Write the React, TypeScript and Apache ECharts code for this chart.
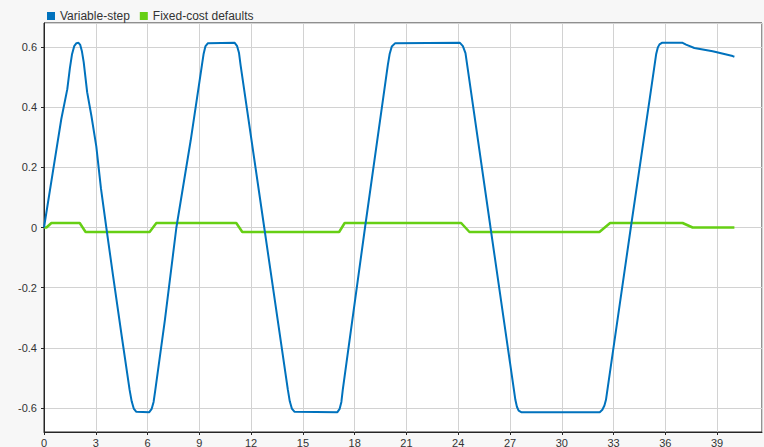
import React, { useEffect, useRef } from "react";
import * as echarts from "echarts";

const seriesNames = ["Variable-step", "Fixed-cost defaults"];
const seriesColors = ["#0072bd", "#66cf14"];

const variableStep: [number, number][] = [
  [0, 0], [0.5, 0.18], [1.0, 0.36], [1.35, 0.46], [1.5, 0.53], [1.62, 0.575],
  [1.75, 0.603], [1.88, 0.613], [2.0, 0.614], [2.1, 0.607], [2.2, 0.585],
  [2.3, 0.55], [2.5, 0.45], [2.75, 0.37], [3.03, 0.27], [3.3, 0.13],
  [3.61, 0.0], [4.0, -0.16], [4.5, -0.36], [4.96, -0.54], [5.08, -0.578],
  [5.2, -0.602], [5.35, -0.613], [6.1, -0.614], [6.24, -0.603],
  [6.35, -0.58], [6.45, -0.54], [7.0, -0.31], [7.67, 0.0], [8.5, 0.29],
  [9.15, 0.54], [9.25, 0.578], [9.35, 0.602], [9.5, 0.613], [11.05, 0.614],
  [11.19, 0.603], [11.3, 0.58], [11.39, 0.54], [12.76, 0.0], [14.13, -0.54],
  [14.24, -0.578], [14.36, -0.602], [14.52, -0.613], [17.0, -0.614],
  [17.13, -0.603], [17.23, -0.58], [17.31, -0.54], [18.6, 0.0], [19.92, 0.54],
  [20.03, 0.578], [20.15, 0.602], [20.35, 0.613], [24.1, 0.614],
  [24.27, 0.603], [24.42, 0.58], [24.52, 0.54], [25.87, 0.0], [27.31, -0.573],
  [27.4, -0.596], [27.5, -0.609], [27.65, -0.614], [32.2, -0.614],
  [32.35, -0.606], [32.47, -0.592], [32.56, -0.573], [34.0, 0.0], [35.1, 0.43],
  [35.47, 0.577], [35.56, 0.598], [35.66, 0.609], [35.8, 0.614], [37.0, 0.614],
  [37.2, 0.608], [37.68, 0.597], [38.74, 0.586], [39.9, 0.57], [40.0, 0.568],
];

const fixedCost: [number, number][] = [
  [0, 0], [0.14, 0.0], [0.43, 0.015], [2.07, 0.015], [2.41, -0.015],
  [6.12, -0.015], [6.51, 0.015], [11.14, 0.015], [11.49, -0.015],
  [17.1, -0.015], [17.42, 0.015], [24.17, 0.015], [24.65, -0.015],
  [32.18, -0.015], [32.8, 0.015], [37.0, 0.015], [37.58, 0.0], [40.0, 0.0],
];

const xMin = 0;
const xMax = 41.6;
const xInterval = 3;
const yMin = -0.68;
const yMax = 0.68;

export default function App() {
  const ref = useRef<HTMLDivElement>(null);
  useEffect(() => {
    if (!ref.current) return;
    const chart = echarts.init(ref.current, null, { renderer: "svg" });
    const font = "'Liberation Sans', Arial, sans-serif";
    chart.setOption({
      animation: false,
      backgroundColor: "#f7f7f7",
      textStyle: { fontFamily: font },
      legend: {
        left: 42,
        top: 5,
        itemWidth: 8,
        itemHeight: 8,
        itemGap: 10,
        icon: "rect",
        textStyle: { fontSize: 12, color: "#333", fontFamily: font },
        data: seriesNames,
      },
      grid: {
        left: 44,
        right: 2,
        top: 23,
        bottom: 15,
        show: true,
        backgroundColor: "#ffffff",
        borderColor: "#262626",
        borderWidth: 1,
        containLabel: false,
        outerBoundsMode: "none",
      },
      xAxis: {
        type: "value",
        min: xMin,
        max: xMax,
        interval: xInterval,
        axisLine: { show: true, onZero: false, lineStyle: { color: "#262626", width: 1 } },
        axisTick: { show: true, length: 3, lineStyle: { color: "#262626" } },
        axisLabel: {
          showMaxLabel: false,
          fontSize: 11,
          color: "#333",
          margin: 5,
          fontFamily: font,
        },
        splitLine: { show: true, lineStyle: { color: "#d2d2d2", width: 1 } },
      },
      yAxis: {
        type: "value",
        min: yMin,
        max: yMax,
        splitNumber: 6,
        axisLine: { show: true, onZero: false, lineStyle: { color: "#262626", width: 1 } },
        axisTick: { show: true, length: 3, lineStyle: { color: "#262626" } },
        axisLabel: {
          showMaxLabel: false,
          showMinLabel: false,
          fontSize: 11,
          color: "#333",
          margin: 7,
          fontFamily: font,
        },
        splitLine: { show: true, lineStyle: { color: "#d2d2d2", width: 1 } },
      },
      series: [
        {
          name: seriesNames[0],
          type: "line",
          data: variableStep,
          showSymbol: false,
          color: seriesColors[0],
          lineStyle: { width: 2, color: seriesColors[0] },
          z: 3,
        },
        {
          name: seriesNames[1],
          type: "line",
          data: fixedCost,
          showSymbol: false,
          color: seriesColors[1],
          lineStyle: { width: 2.5, color: seriesColors[1] },
          z: 2,
        },
      ],
    });
    return () => chart.dispose();
  }, []);
  return (
    <div
      ref={ref}
      style={{ position: "fixed", left: 0, top: 0, width: 764, height: 447 }}
    />
  );
}
